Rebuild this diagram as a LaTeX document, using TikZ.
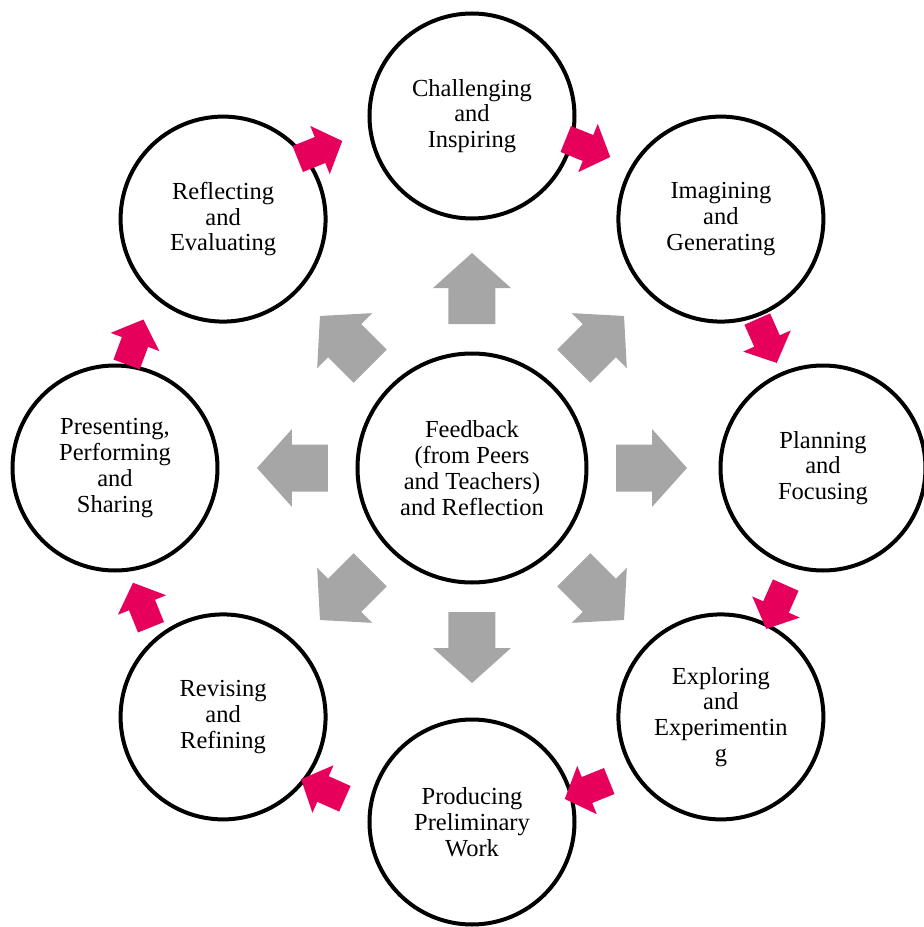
\documentclass[tikz,border=0pt]{standalone}
\usepackage{fontspec}
\setmainfont{Liberation Serif}
\usetikzlibrary{positioning}
\definecolor{spokegray}{RGB}{166,166,166}
\definecolor{cyclepink}{RGB}{230,0,92}

\begin{document}
\begin{tikzpicture}[x=1pt, y=1pt]
      \tikzstyle{stage} = [circle, draw, line width=4pt, fill=white,
                           minimum size=205pt, inner sep=0pt, align=center,
                           font=\fontsize{24.5}{25.8}\selectfont]
      \tikzstyle{hub} = [stage, minimum size=229pt]
      \tikzset{spoke/.pic = {\fill[spokegray] (-35.5,-23.5) -- (0.5,-23.5)
                 -- (0.5,-39) -- (35.5,0) -- (0.5,39) -- (0.5,23.5)
                 -- (-35.5,23.5) -- cycle;},
               step arrow/.pic = {\fill[cyclepink] (-24,-14) -- (0,-14)
                 -- (0,-26) -- (24,0) -- (0,26) -- (0,14) -- (-24,14)
                 -- cycle;}}
      \useasboundingbox (-472,-459) rectangle (452,468);
      \node[hub] (feedback) at (0,0)
        {Feedback\\(from Peers\\and Teachers)\\and Reflection};
      \node[stage] (challenge) at (90:352) {Challenging\\and\\Inspiring};
      \node[stage] (imagine) at (45:352) {Imagining\\and\\Generating};
      \node[stage] (plan) at (0:351) {Planning\\and\\Focusing};
      \node[stage] (explore) at (-45:352)
        {Exploring\\and\\Experimentin\\g};
      \node[stage] (produce) at (-90:354) {Producing\\Preliminary\\Work};
      \node[stage] (revise) at (-135:352) {Revising\\and\\Refining};
      \node[stage] (present) at (180:357)
        {Presenting,\\Performing\\and\\Sharing};
      \node[stage] (reflect) at (135:352) {Reflecting\\and\\Evaluating};
      \path (90:179.5) pic[rotate=90] (spokeN) {spoke};
      \path (45:179.5) pic[rotate=45] (spokeNE) {spoke};
      \path (0:179.5) pic[rotate=0] (spokeE) {spoke};
      \path (-45:179.5) pic[rotate=-45] (spokeSE) {spoke};
      \path (-90:179.5) pic[rotate=-90] (spokeS) {spoke};
      \path (-135:179.5) pic[rotate=-135] (spokeSW) {spoke};
      \path (180:179.5) pic[rotate=180] (spokeW) {spoke};
      \path (135:179.5) pic[rotate=135] (spokeNW) {spoke};
      \path (-337,126) pic[rotate=69.5] (presentreflect) {step arrow};
      \path (-152,318) pic[rotate=22] (reflectchallenge) {step arrow};
      \path (116,320) pic[rotate=-22] (challengeimagine) {step arrow};
      \path (295,127) pic[rotate=-66] (imagineplan) {step arrow};
      \path (304,-139) pic[rotate=-114] (planexplore) {step arrow};
      \path (115,-322) pic[rotate=-158] (exploreproduce) {step arrow};
      \path (-149,-321) pic[rotate=156] (producerevise) {step arrow};
      \path (-330,-137) pic[rotate=112] (revisepresent) {step arrow};
    \end{tikzpicture}
\end{document}
